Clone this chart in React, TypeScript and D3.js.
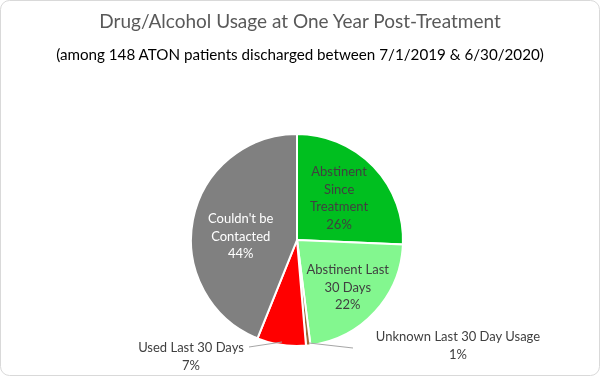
import React from "react";
import * as d3 from "d3";

const categories = [
  "Abstinent Since Treatment",
  "Abstinent Last 30 Days",
  "Unknown Last 30 Day Usage",
  "Used Last 30 Days",
  "Couldn't be Contacted",
];
const counts = [38, 33, 1, 11, 65];
const percentLabels = ["26%", "22%", "1%", "7%", "44%"];
const colors = ["#00BF1F", "#83F78F", "#9E6B3B", "#FF0000", "#808080"];
const labelLines = [
  ["Abstinent", "Since", "Treatment"],
  ["Abstinent Last", "30 Days"],
  ["Unknown Last 30 Day Usage"],
  ["Used Last 30 Days"],
  ["Couldn't be", "Contacted"],
];
const title = "Drug/Alcohol Usage at One Year Post-Treatment";
const subtitle = "(among 148 ATON patients discharged between 7/1/2019 & 6/30/2020)";

const W = 600;
const H = 376;
const cx = 297;
const cy = 240;
const R = 106;
const FONT = "Lato, 'Open Sans', sans-serif";

// label placement tweaks per slice index: [radius fraction, dx, dy]
const insidePlacement: Record<number, [number, number, number]> = {
  0: [0.55, 0, -2],
  1: [0.65, 0, 0],
  4: [0.55, 1, 7],
};

export default function App() {
  const pie = d3.pie<number>().sort(null).value((d) => d);
  const arcs = pie(counts);
  const arcGen = d3.arc<d3.PieArcDatum<number>>().innerRadius(0).outerRadius(R);
  const lineH = 17.5;

  const inside = [0, 1, 4];

  return (
    <div style={{ position: "fixed", left: 0, top: 0 }}>
      <svg width={W} height={H} style={{ display: "block" }}>
        <rect x={0.5} y={0.5} width={W - 1} height={H - 1} rx={9} fill="#fff" stroke="#d9d9d9" />
        <text x={300} y={28} textAnchor="middle" fontFamily={FONT} fontSize={19} fill="#595959">
          {title}
        </text>
        <text x={300} y={60} textAnchor="middle" fontFamily={FONT} fontSize={15.2} fill="#000">
          {subtitle}
        </text>
        <g transform={`translate(${cx},${cy})`}>
          {arcs.map((a, i) => (
            <path key={i} d={arcGen(a) || ""} fill={colors[i]} stroke="#fff" strokeWidth={2} />
          ))}
          {inside.map((i) => {
            const [rf, dx, dy] = insidePlacement[i];
            const la = d3.arc<d3.PieArcDatum<number>>().innerRadius(R * rf).outerRadius(R * rf);
            const [x0, y] = la.centroid(arcs[i]);
            const x = x0 + dx;
            const lines = [...labelLines[i], percentLabels[i]];
            const fill = i === 4 ? "#fff" : "#404040";
            const y0 = y + dy - ((lines.length - 1) * lineH) / 2 + 5;
            return (
              <text key={i} textAnchor="middle" fontFamily={FONT} fontSize={13} fill={fill}>
                {lines.map((l, k) => (
                  <tspan key={k} x={x} y={y0 + k * lineH}>
                    {l}
                  </tspan>
                ))}
              </text>
            );
          })}
        </g>
        {/* Unknown label */}
        <polyline points={`${cx + 12},${cy + 103} ${cx + 56},${cy + 108}`} fill="none" stroke="#a6a6a6" strokeWidth={1} />
        <text textAnchor="middle" fontFamily={FONT} fontSize={13} fill="#404040">
          <tspan x={458} y={341}>{labelLines[2][0]}</tspan>
          <tspan x={458} y={359}>{percentLabels[2]}</tspan>
        </text>
        {/* Used label */}
        <polyline points={`${cx - 15},${cy + 102} ${cx - 48},${cy + 107}`} fill="none" stroke="#a6a6a6" strokeWidth={1} />
        <text textAnchor="middle" fontFamily={FONT} fontSize={13} fill="#404040">
          <tspan x={191} y={352}>{labelLines[3][0]}</tspan>
          <tspan x={191} y={370}>{percentLabels[3]}</tspan>
        </text>
      </svg>
    </div>
  );
}
